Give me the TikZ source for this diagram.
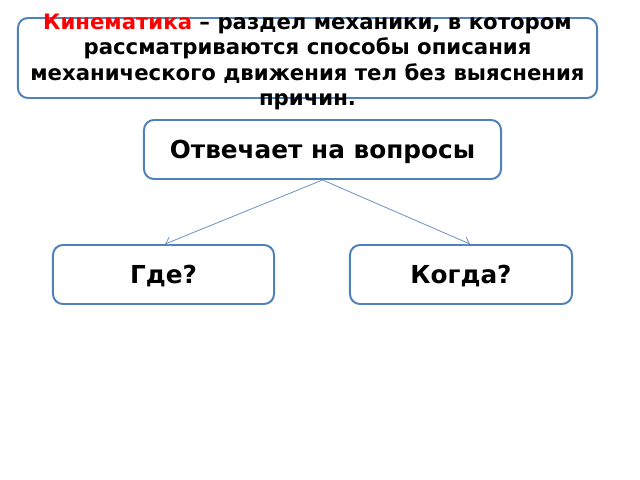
\documentclass[tikz,border=0pt]{standalone}
\usepackage{fontspec}
\setmainfont{DejaVu Sans}
\usetikzlibrary{arrows.meta, positioning}
\definecolor{boxblue}{RGB}{79,129,189}
\definecolor{linkblue}{RGB}{110,150,200}
\definecolor{termred}{RGB}{255,0,0}

\begin{document}
\begin{tikzpicture}[
    x=0.025cm, y=-0.025cm,
    box/.style={draw=boxblue, line width=1.4pt, rectangle, rounded corners=0.25cm, fill=white, inner sep=0pt, text depth=0pt},
    arrow/.style={-{Straight Barb[length=1.4mm, width=2.4mm]}, draw=linkblue, line width=0.6pt},
    every node/.style={font=\bfseries}
]
% Canvas
\useasboundingbox (0,0) rectangle (640,480);

% Definition
\node[box, minimum width=14.475cm, minimum height=2cm] (kin) at (307.5,58) {};
\node[align=center, font=\bfseries\fontsize{15.1}{18.2}\selectfont] (kintext) at (307.5,62)
  {\textcolor{termred}{Кинематика} – раздел механики, в котором\\рассматриваются способы описания\\механического движения тел без выяснения\\причин.};

% Question
\node[box, minimum width=8.925cm, minimum height=1.475cm, font=\bfseries\fontsize{17.6}{20}\selectfont] (ask) at (322.5,149.5) {Отвечает на вопросы};

% Answers
\node[box, minimum width=5.525cm, minimum height=1.475cm, font=\bfseries\fontsize{17.6}{20}\selectfont] (where) at (163.5,274.5) {Где?};
\node[box, minimum width=5.55cm, minimum height=1.475cm, font=\bfseries\fontsize{17.6}{20}\selectfont] (when) at (461,274.5) {Когда?};

% Arrows
\draw[arrow] (ask.south) -- ([xshift=0.04cm]where.north);
\draw[arrow] (ask.south) -- ([xshift=0.225cm]when.north);

\end{tikzpicture}
\end{document}
